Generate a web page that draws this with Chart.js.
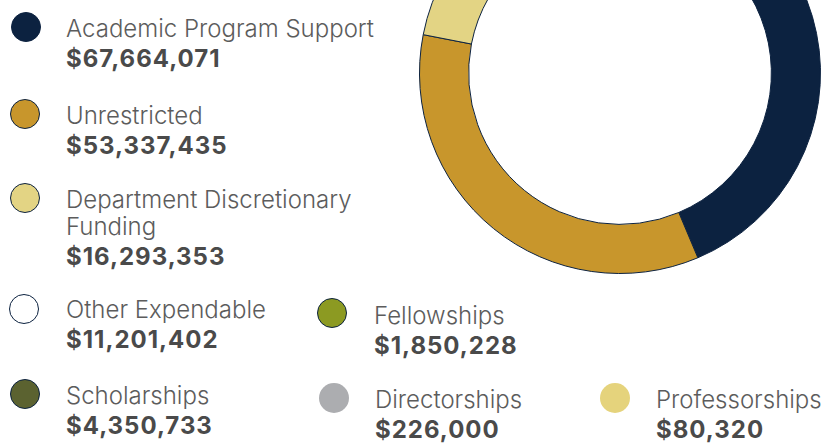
<!DOCTYPE html>
<html>
<head>
<meta charset="utf-8">
<script src="https://cdn.jsdelivr.net/npm/chart.js@4.4.0/dist/chart.umd.min.js"></script>
<style>
    html, body {
        margin: 0;
        padding: 0;
        width: 826px;
        height: 443px;
        overflow: hidden;
        background: #ffffff;
        position: relative;
        font-family: Inter, "Open Sans", sans-serif;
    }
    #chartBox {
        position: absolute;
        left: 419px;
        top: -128px;
        width: 402px;
        height: 402px;
    }
    .dot {
        position: absolute;
        width: 30px;
        height: 30px;
        border-radius: 50%;
        box-sizing: border-box;
    }
    .label {
        position: absolute;
        white-space: nowrap;
        font-size: 24px;
        font-weight: 300;
        line-height: 27px;
        color: #5c5c5c;
    }
    .value {
        display: block;
        margin-top: 3px;
        font-size: 24px;
        font-weight: 700;
        letter-spacing: 1px;
        line-height: 27px;
        color: #4a4a4a;
    }
</style>
</head>
<body>
<div id="chartBox"><canvas id="myChart"></canvas></div>
<div id="legend"></div>

<script>
    // data
    const categories = ['Academic Program Support', 'Unrestricted', 'Department Discretionary Funding',
        'Other Expendable', 'Scholarships', 'Fellowships', 'Directorships', 'Professorships'];
    const amounts = [67664071, 53337435, 16293353, 11201402, 4350733, 1850228, 226000, 80320];
    const colors = ['#0c2240', '#c8962c', '#e3d484', '#ffffff', '#5b6230', '#8c9a22', '#acadb0', '#e5d37c'];
    const dotBorders = ['#0c2240', '#0c2240', '#0c2240', '#0c2240', '#0c2240', '#0c2240', 'transparent', 'transparent'];

    // legend layout: [dotX, dotY, textX, textTop]
    const legendPos = [
        [11, 12, 66, 15],
        [10, 99, 66, 102],
        [10, 183, 66, 186],
        [9, 294, 66, 296],
        [10, 379, 66, 382],
        [317, 298, 374, 302],
        [319, 383, 375, 386],
        [600, 383, 656, 386]
    ];

    const ctx = document.getElementById('myChart');

    new Chart(ctx, {
        type: 'doughnut',
        data: {
            labels: categories,
            datasets: [{
                data: amounts,
                backgroundColor: colors,
                borderColor: '#0c2240',
                borderWidth: 1
            }]
        },
        options: {
            responsive: true,
            maintainAspectRatio: false,
            animation: false,
            cutout: '75.5%',
            plugins: {
                legend: {display: false},
                tooltip: {enabled: false}
            }
        }
    });

    // html legend
    const legend = document.getElementById('legend');
    categories.forEach((cat, i) => {
        const pos = legendPos[i];
        const dot = document.createElement('div');
        dot.className = 'dot';
        dot.style.left = pos[0] + 'px';
        dot.style.top = pos[1] + 'px';
        dot.style.background = colors[i];
        dot.style.border = '1.5px solid ' + dotBorders[i];
        legend.appendChild(dot);

        const label = document.createElement('div');
        label.className = 'label';
        label.style.left = pos[2] + 'px';
        label.style.top = pos[3] + 'px';
        let text = cat;
        if (cat === 'Department Discretionary Funding') {
            text = 'Department Discretionary<br>Funding';
        }
        label.innerHTML = text + '<span class="value">$' + amounts[i].toLocaleString('en-US') + '</span>';
        legend.appendChild(label);
    });
</script>
</body>
</html>
